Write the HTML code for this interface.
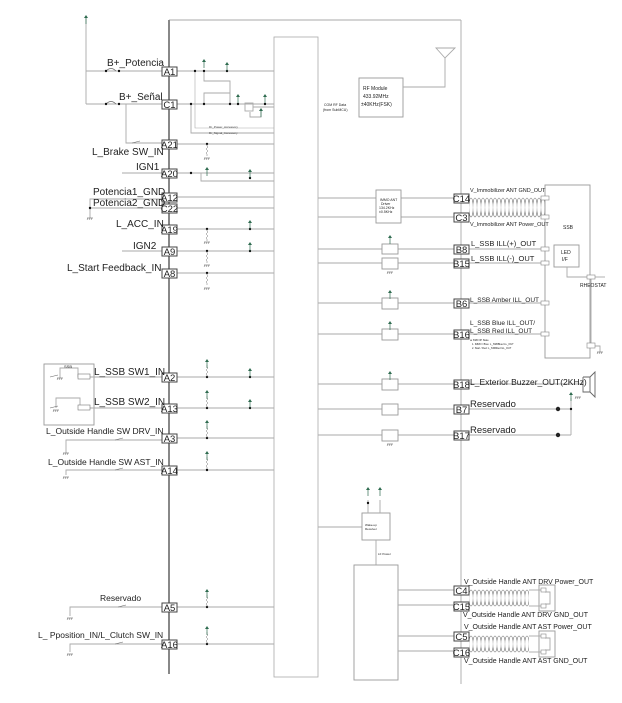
<!DOCTYPE html>
<html><head><meta charset="utf-8"><style>
html,body{margin:0;padding:0;background:#fff;}
svg{display:block;}
text{font-family:"Liberation Sans",sans-serif;fill:#222;}
.t{font-size:3px;fill:#444;}
</style></head><body>
<svg width="622" height="703" viewBox="0 0 622 703" xmlns="http://www.w3.org/2000/svg">
<defs>
<pattern id="coilA" x="469" y="197" width="4" height="21" patternUnits="userSpaceOnUse">
<ellipse cx="2" cy="10.5" rx="2.2" ry="9.5" fill="none" stroke="#777" stroke-width="0.6"/>
</pattern>
<pattern id="coilB" x="469" y="589" width="4" height="18" patternUnits="userSpaceOnUse">
<ellipse cx="2" cy="9" rx="2.2" ry="8" fill="none" stroke="#777" stroke-width="0.6"/>
</pattern>
<pattern id="coilC" x="469" y="635" width="4" height="18" patternUnits="userSpaceOnUse">
<ellipse cx="2" cy="9" rx="2.2" ry="8" fill="none" stroke="#777" stroke-width="0.6"/>
</pattern>
<g id="gnd"><line x1="-3" y1="0" x2="3" y2="0" stroke="#666" stroke-width="0.6"/><line x1="-2" y1="0" x2="-3" y2="2" stroke="#666" stroke-width="0.5"/><line x1="0" y1="0" x2="-1" y2="2" stroke="#666" stroke-width="0.5"/><line x1="2" y1="0" x2="1" y2="2" stroke="#666" stroke-width="0.5"/></g>
<g id="pw"><polygon points="0,-3 -2,0 2,0" fill="#2e6b4f"/><line x1="0" y1="0" x2="0" y2="6" stroke="#2e6b4f" stroke-width="0.7"/></g>
<g id="res"><polyline points="0,0 0,2 1,3 -1,5 1,7 -1,9 0,10 0,12" fill="none" stroke="#777" stroke-width="0.5"/></g>
</defs>
<g stroke="#aaa" stroke-width="0.9" fill="none">
<line x1="169" y1="20" x2="461" y2="20"/>
<line x1="461" y1="20" x2="461" y2="684"/>
<rect x="274" y="37" width="44" height="640" stroke-width="0.8"/>
<line x1="169" y1="20" x2="169" y2="674" stroke="#888" stroke-width="2"/>
<rect x="359" y="78" width="44" height="39" stroke="#999"/>
<polyline points="403,87 445,87 445,58"/>
<polygon points="436,48 455,48 445,58"/>
<line x1="177" y1="71" x2="274" y2="71"/>
<line x1="177" y1="104" x2="274" y2="104"/>
<line x1="177" y1="144" x2="274" y2="144"/>
<line x1="177" y1="173" x2="274" y2="173"/>
<line x1="177" y1="197" x2="274" y2="197"/>
<line x1="177" y1="208" x2="274" y2="208"/>
<line x1="177" y1="229" x2="274" y2="229"/>
<line x1="177" y1="251" x2="274" y2="251"/>
<line x1="177" y1="273" x2="274" y2="273"/>
<line x1="177" y1="377" x2="274" y2="377"/>
<line x1="177" y1="408" x2="274" y2="408"/>
<line x1="177" y1="438" x2="274" y2="438"/>
<line x1="177" y1="470" x2="274" y2="470"/>
<line x1="177" y1="607" x2="274" y2="607"/>
<line x1="177" y1="644" x2="274" y2="644"/>
<polyline points="195,71 195,128 274,128" stroke-width="0.6"/>
<polyline points="191,104 191,133 274,133"/>
<polyline points="204,71 204,81 230,81 230,104"/>
<polyline points="204,104 204,93 230,93"/>
<rect x="245" y="103" width="8" height="8"/>
<polyline points="253,107 274,107"/>
<polyline points="250,112 250,117 261,117 261,109"/>
<polyline points="201,173 201,181 274,181"/>
<line x1="86" y1="18" x2="86" y2="104"/>
<line x1="86" y1="71" x2="162" y2="71"/>
<line x1="86" y1="104" x2="162" y2="104"/>
<polyline points="126,104 126,143 162,143"/>
<line x1="122" y1="173" x2="162" y2="173"/>
<polyline points="162,199 90,199 90,218"/>
<line x1="90" y1="208" x2="162" y2="208"/>
<line x1="122" y1="251" x2="162" y2="251"/>
<rect x="44" y="364" width="50" height="61" stroke="#999"/>
<polyline points="60,378 60,368 78,368 78,377 162,377"/>
<polyline points="56,408 56,398 80,398 80,408 162,408"/>
<polyline points="66,453 66,440 162,440"/>
<polyline points="66,475 66,470 162,470"/>
<polyline points="70,616 70,607 162,607"/>
<polyline points="70,652 70,644 162,644"/>
<line x1="318" y1="198" x2="376" y2="198"/>
<line x1="318" y1="217" x2="376" y2="217"/>
<line x1="401" y1="198" x2="454" y2="198"/>
<line x1="401" y1="217" x2="454" y2="217"/>
<rect x="376" y="190" width="25" height="33" stroke="#999"/>
<line x1="318" y1="249" x2="454" y2="249"/>
<line x1="318" y1="263" x2="454" y2="263"/>
<line x1="318" y1="303" x2="454" y2="303"/>
<line x1="318" y1="334" x2="454" y2="334"/>
<line x1="318" y1="384" x2="454" y2="384"/>
<line x1="318" y1="409" x2="454" y2="409"/>
<line x1="318" y1="435" x2="454" y2="435"/>
<g fill="#fff" stroke="#999">
<rect x="382" y="244" width="16" height="10"/>
<rect x="382" y="258" width="16" height="11"/>
<rect x="382" y="298" width="16" height="11"/>
<rect x="382" y="329" width="16" height="11"/>
<rect x="382" y="379" width="16" height="11"/>
<rect x="382" y="404" width="16" height="11"/>
<rect x="382" y="430" width="16" height="11"/>
</g>
<line x1="318" y1="527" x2="362" y2="527"/>
<rect x="362" y="513" width="28" height="27" stroke="#999"/>
<line x1="376" y1="540" x2="376" y2="565"/>
<rect x="354" y="565" width="44" height="115" stroke="#999"/>
<line x1="398" y1="590" x2="454" y2="590"/>
<line x1="398" y1="605" x2="454" y2="605"/>
<line x1="398" y1="636" x2="454" y2="636"/>
<line x1="398" y1="651" x2="454" y2="651"/>
<polyline points="368,513 368,500"/><polyline points="380,513 380,500"/>
<rect x="545" y="185" width="45" height="173" stroke="#999"/>
<rect x="554" y="245" width="25" height="22" stroke="#999"/>
<polyline points="567,267 567,277 588,277"/>
<line x1="595" y1="277" x2="605" y2="277"/>
<line x1="591" y1="277" x2="591" y2="343"/>
<polyline points="595,346 600,346 600,352"/>
<line x1="545" y1="198" x2="541" y2="198"/>
<line x1="545" y1="217" x2="541" y2="217"/>
<line x1="469" y1="249" x2="541" y2="249"/>
<line x1="469" y1="263" x2="541" y2="263"/>
<line x1="469" y1="303" x2="541" y2="303"/>
<line x1="469" y1="334" x2="541" y2="334"/>
<line x1="469" y1="384" x2="583" y2="384"/>
<line x1="469" y1="409" x2="571" y2="409"/>
<line x1="469" y1="435" x2="571" y2="435"/>
<polyline points="571,409 571,435"/>
<line x1="571" y1="398" x2="571" y2="409"/>
<polyline points="583,377 583,392 590,392 590,377 583,377" stroke="#666"/>
<polyline points="590,377 595,372 595,397 590,392" stroke="#666"/>
<rect x="539" y="585" width="16" height="26" stroke="#999"/>
<rect x="539" y="631" width="16" height="26" stroke="#999"/>
<line x1="529" y1="590" x2="545" y2="590"/>
<line x1="529" y1="606" x2="545" y2="606"/>
<line x1="529" y1="636" x2="545" y2="636"/>
<line x1="529" y1="652" x2="545" y2="652"/>
<polyline points="545,592 550,592 550,604 545,604"/>
<polyline points="545,638 550,638 550,650 545,650"/>
</g>
<rect x="469" y="197" width="76" height="21" fill="url(#coilA)"/>
<rect x="469" y="589" width="60" height="18" fill="url(#coilB)"/>
<rect x="469" y="635" width="60" height="18" fill="url(#coilC)"/>
<g fill="#fff" stroke="#888" stroke-width="0.6">
<rect x="541" y="196" width="8" height="4"/><rect x="541" y="215" width="8" height="4"/>
<rect x="541" y="247" width="8" height="4"/><rect x="541" y="261" width="8" height="4"/>
<rect x="541" y="301" width="8" height="4"/><rect x="541" y="332" width="8" height="4"/>
<rect x="587" y="275" width="8" height="4"/><rect x="587" y="343" width="8" height="5"/>
<rect x="541" y="588" width="5" height="4"/><rect x="541" y="604" width="5" height="4"/>
<rect x="541" y="634" width="5" height="4"/><rect x="541" y="650" width="5" height="4"/>
</g>
<g fill="none" stroke="#666" stroke-width="0.6">
<path d="M106,71 q5,-5 10,0"/><path d="M106,104 q5,-5 10,0"/>
<path d="M132,143 l8,-2"/><path d="M115,440 l8,-2"/><path d="M115,470 l8,-2"/>
<path d="M118,607 l8,-2"/><path d="M115,644 l8,-2"/>
<path d="M50,377 l8,-2"/><path d="M50,408 l8,-2"/>
</g>
<rect x="78" y="374" width="12" height="5" fill="#fff" stroke="#777" stroke-width="0.6"/>
<rect x="78" y="405" width="12" height="5" fill="#fff" stroke="#777" stroke-width="0.6"/>
<g fill="#111">
<circle cx="195" cy="71" r="1.2"/><circle cx="204" cy="71" r="1.2"/><circle cx="227" cy="71" r="1.2"/>
<circle cx="191" cy="104" r="1.2"/><circle cx="204" cy="104" r="1.2"/><circle cx="230" cy="104" r="1.2"/><circle cx="238" cy="104" r="1.2"/><circle cx="265" cy="104" r="1.2"/>
<circle cx="106" cy="71" r="1.2"/><circle cx="119" cy="71" r="1.2"/><circle cx="106" cy="104" r="1.2"/><circle cx="119" cy="104" r="1.2"/>
<circle cx="207" cy="144" r="1.2"/><circle cx="191" cy="173" r="1.2"/><circle cx="250" cy="178" r="1.2"/>
<circle cx="207" cy="229" r="1.2"/><circle cx="250" cy="229" r="1.2"/><circle cx="207" cy="251" r="1.2"/><circle cx="250" cy="251" r="1.2"/><circle cx="207" cy="273" r="1.2"/>
<circle cx="207" cy="377" r="1.2"/><circle cx="250" cy="377" r="1.2"/><circle cx="207" cy="408" r="1.2"/><circle cx="250" cy="408" r="1.2"/>
<circle cx="207" cy="438" r="1.2"/><circle cx="207" cy="470" r="1.2"/><circle cx="207" cy="607" r="1.2"/><circle cx="207" cy="644" r="1.2"/>
<circle cx="368" cy="503" r="1.2"/><circle cx="571" cy="409" r="1.2"/><circle cx="90" cy="208" r="1.2"/>
</g>
<g fill="#222"><circle cx="558" cy="409" r="2.2"/><circle cx="558" cy="435" r="2.2"/></g>
<g>
<use href="#res" x="207" y="144"/><use href="#gnd" x="207" y="158"/>
<use href="#res" x="207" y="229"/><use href="#gnd" x="207" y="242"/>
<use href="#res" x="207" y="251"/><use href="#gnd" x="207" y="265"/>
<use href="#res" x="207" y="273"/><use href="#gnd" x="207" y="288"/>
<use href="#res" x="207" y="365"/><use href="#res" x="207" y="396"/>
<use href="#res" x="207" y="426"/><use href="#res" x="207" y="457"/>
<use href="#res" x="207" y="595"/><use href="#res" x="207" y="632"/>
<use href="#gnd" x="90" y="218"/><use href="#gnd" x="60" y="378"/><use href="#gnd" x="56" y="410"/>
<use href="#gnd" x="66" y="453"/><use href="#gnd" x="66" y="477"/><use href="#gnd" x="70" y="618"/><use href="#gnd" x="70" y="654"/>
<use href="#gnd" x="390" y="272"/><use href="#gnd" x="390" y="444"/><use href="#gnd" x="600" y="352"/><use href="#gnd" x="578" y="397"/>
<use href="#pw" x="86" y="18"/><use href="#pw" x="204" y="62"/><use href="#pw" x="227" y="65"/>
<use href="#pw" x="238" y="97"/><use href="#pw" x="265" y="97"/><use href="#pw" x="261" y="111"/>
<use href="#pw" x="207" y="170"/><use href="#pw" x="250" y="172"/>
<use href="#pw" x="250" y="223"/><use href="#pw" x="250" y="245"/>
<use href="#pw" x="207" y="362"/><use href="#pw" x="250" y="371"/><use href="#pw" x="207" y="393"/><use href="#pw" x="250" y="402"/>
<use href="#pw" x="207" y="423"/><use href="#pw" x="207" y="454"/><use href="#pw" x="207" y="592"/><use href="#pw" x="207" y="629"/>
<use href="#pw" x="390" y="238"/><use href="#pw" x="390" y="293"/><use href="#pw" x="390" y="324"/><use href="#pw" x="390" y="374"/>
<use href="#pw" x="368" y="490"/><use href="#pw" x="380" y="490"/><use href="#pw" x="571" y="395"/>
</g>
<g font-size="9.5" text-anchor="middle">
<g fill="#fff" stroke="#444" stroke-width="1">
<rect x="162" y="67" width="15" height="9"/><rect x="162" y="100" width="15" height="9"/>
<rect x="162" y="140" width="15" height="9"/><rect x="162" y="169" width="15" height="9"/>
<rect x="162" y="193" width="15" height="9"/><rect x="162" y="204" width="15" height="9"/>
<rect x="162" y="225" width="15" height="9"/><rect x="162" y="247" width="15" height="9"/>
<rect x="162" y="269" width="15" height="9"/><rect x="162" y="373" width="15" height="9"/>
<rect x="162" y="404" width="15" height="9"/><rect x="162" y="434" width="15" height="9"/>
<rect x="162" y="466" width="15" height="9"/><rect x="162" y="603" width="15" height="9"/>
<rect x="162" y="640" width="15" height="9"/>
<rect x="454" y="194" width="15" height="9"/><rect x="454" y="213" width="15" height="9"/>
<rect x="454" y="245" width="15" height="9"/><rect x="454" y="259" width="15" height="9"/>
<rect x="454" y="299" width="15" height="9"/><rect x="454" y="330" width="15" height="9"/>
<rect x="454" y="380" width="15" height="9"/><rect x="454" y="405" width="15" height="9"/>
<rect x="454" y="431" width="15" height="9"/>
<rect x="454" y="586" width="15" height="9"/><rect x="454" y="602" width="15" height="9"/>
<rect x="454" y="632" width="15" height="9"/><rect x="454" y="648" width="15" height="9"/>
</g>
<text x="169.5" y="75">A1</text><text x="169.5" y="108">C1</text><text x="169.5" y="148">A21</text>
<text x="169.5" y="177">A20</text><text x="169.5" y="201">A12</text><text x="169.5" y="212">C22</text>
<text x="169.5" y="233">A19</text><text x="169.5" y="255">A9</text><text x="169.5" y="277">A8</text>
<text x="169.5" y="381">A2</text><text x="169.5" y="412">A13</text><text x="169.5" y="442">A3</text>
<text x="169.5" y="474">A14</text><text x="169.5" y="611">A5</text><text x="169.5" y="648">A16</text>
<text x="461.5" y="202">C14</text><text x="461.5" y="221">C3</text><text x="461.5" y="253">B8</text>
<text x="461.5" y="267">B15</text><text x="461.5" y="307">B6</text><text x="461.5" y="338">B16</text>
<text x="461.5" y="388">B18</text><text x="461.5" y="413">B7</text><text x="461.5" y="439">B17</text>
<text x="461.5" y="594">C4</text><text x="461.5" y="610">C15</text><text x="461.5" y="640">C5</text><text x="461.5" y="656">C16</text>
</g>
<g font-size="10">
<text x="107" y="66">B+_Potencia</text>
<text x="119" y="100">B+_Señal</text>
<text x="92" y="155">L_Brake SW_IN</text>
<text x="136" y="170">IGN1</text>
<text x="93" y="195">Potencia1_GND</text>
<text x="93" y="206">Potencia2_GND</text>
<text x="116" y="227">L_ACC_IN</text>
<text x="133" y="249">IGN2</text>
<text x="67" y="271">L_Start Feedback_IN</text>
<text x="94" y="375">L_SSB SW1_IN</text>
<text x="94" y="405">L_SSB SW2_IN</text>
<text x="46" y="434" font-size="8.5">L_Outside Handle SW DRV_IN</text>
<text x="48" y="465" font-size="8.5">L_Outside Handle SW AST_IN</text>
<text x="100" y="601" font-size="8.5">Reservado</text>
<text x="38" y="638" font-size="8.5">L_ Pposition_IN/L_Clutch SW_IN</text>
</g>
<g>
<text x="470" y="192" font-size="5.5">V_Immobilizer ANT GND_OUT</text>
<text x="470" y="226" font-size="5.5">V_Immobilizer ANT Power_OUT</text>
<text x="471" y="246" font-size="7.5">L_SSB ILL(+)_OUT</text>
<text x="471" y="261" font-size="7.5">L_SSB ILL(-)_OUT</text>
<text x="470" y="302" font-size="6.5">L_SSB Amber ILL_OUT</text>
<text x="470" y="325" font-size="6.5">L_SSB Blue ILL_OUT/</text>
<text x="470" y="333" font-size="6.5">L_SSB Red ILL_OUT</text>
<text x="470" y="385" font-size="8.5">L_Exterior Buzzer_OUT(2KHz)</text>
<text x="470" y="407" font-size="9.5">Reservado</text>
<text x="470" y="433" font-size="9.5">Reservado</text>
<text x="464" y="584" font-size="7">V_Outside Handle ANT DRV Power_OUT</text>
<text x="463" y="617" font-size="7">V_Outside Handle ANT DRV GND_OUT</text>
<text x="464" y="629" font-size="7">V_Outside Handle ANT AST Power_OUT</text>
<text x="464" y="663" font-size="7">V_Outside Handle ANT AST GND_OUT</text>
<text x="563" y="229" font-size="5" fill="#888">SSB</text>
<text x="561" y="254" font-size="5" fill="#888">LED</text>
<text x="562" y="261" font-size="5" fill="#888">I/F</text>
<text x="580" y="287" font-size="5" fill="#888">RHEOSTAT</text>
<text x="64" y="368" font-size="4" fill="#888">SSB</text>
<text x="363" y="90" font-size="5" fill="#666">RF Module</text>
<text x="363" y="98" font-size="5" fill="#666">433.92MHz</text>
<text x="361" y="106" font-size="5" fill="#666">±40KHz(FSK)</text>
<text x="324" y="106" font-size="3.5" fill="#666">COM RF Data</text>
<text x="323" y="111" font-size="3.5" fill="#666">(from SubMCU)</text>
<text x="380" y="201" font-size="3.5" fill="#666">IMMO ANT</text>
<text x="381" y="205" font-size="3.5" fill="#666">Driver</text>
<text x="379" y="209" font-size="3.5" fill="#666">134.2KHz</text>
<text x="379" y="213" font-size="3.5" fill="#666">±0.5KHz</text>
<text x="365" y="526" font-size="3" fill="#666">Wake-up</text>
<text x="365" y="530" font-size="3" fill="#666">Receiver</text>
<text x="378" y="555" font-size="3" fill="#666">LF Power</text>
<text x="470" y="341" font-size="2.5" fill="#666">※ SSB OP State</text>
<text x="472" y="345" font-size="2.5" fill="#666">1. IMMO / Blue: L_SSBBlue ILL_OUT</text>
<text x="472" y="349" font-size="2.5" fill="#666">2. Start / Red: L_SSBRed ILL_OUT</text>
<text x="209" y="128" class="t">Dr_Power_Accessory</text>
<text x="209" y="134" class="t">Dr_Signal_Accessory</text>
</g>
</svg>
</body></html>
